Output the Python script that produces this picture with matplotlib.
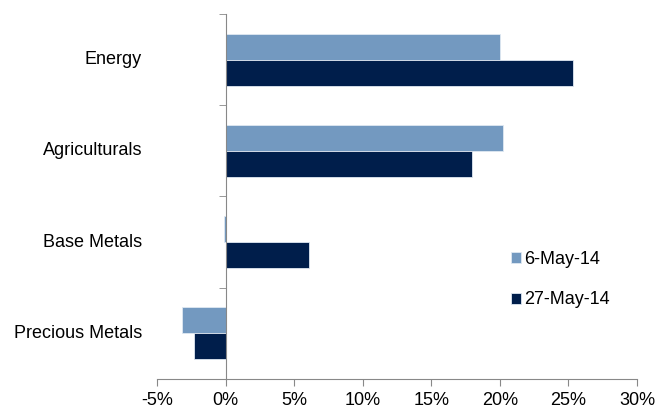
import matplotlib.pyplot as plt
import matplotlib.transforms as mtransforms
import numpy as np
from matplotlib.ticker import FixedLocator, FuncFormatter

plt.rcParams['font.family'] = ['Liberation Sans', 'DejaVu Sans']

categories = ["Energy", "Agriculturals", "Base Metals", "Precious Metals"]
may6 = [20.0, 20.2, -0.15, -3.2]
may27 = [25.3, 18.0, 6.1, -2.3]
series_labels = ["6-May-14", "27-May-14"]
light = "#7399C0"
dark = "#001E4B"
fs = 13

fig = plt.figure(figsize=(6.55, 4.11), dpi=100)
ax = fig.add_axes([157 / 655, 32 / 411, 480 / 655, 365 / 411])

y = np.arange(len(categories))
h = 0.285
ax.barh(y - h / 2, may6, height=h, color=light, edgecolor="#dfe8f2", linewidth=0.6,
        label=series_labels[0])
ax.barh(y + h / 2, may27, height=h, color=dark, edgecolor="#dfe8f2", linewidth=0.6,
        label=series_labels[1])

ax.set_xlim(-5, 30)
ax.set_ylim(len(categories) - 0.5, -0.5)

for s in ["top", "right"]:
    ax.spines[s].set_visible(False)
ax.spines["left"].set_position(("data", 0))
ax.spines["left"].set_color("#888888")
ax.spines["bottom"].set_color("#888888")

ax.set_xticks(np.arange(-5, 31, 5))
ax.xaxis.set_major_formatter(FuncFormatter(lambda v, p: f"{v:.0f}%"))
ax.tick_params(axis="x", direction="out", length=5, color="#888888",
               labelsize=fs, pad=4)

ax.set_yticks([])
ax.yaxis.set_minor_locator(FixedLocator(np.arange(-0.5, len(categories), 1.0)))
ax.tick_params(axis="y", which="minor", direction="out", length=5, color="#888888")

trans = mtransforms.blended_transform_factory(ax.transAxes, ax.transData)
for yi, name in zip(y, categories):
    ax.text(-15 / 480, yi, name, transform=trans, ha="right", va="center", fontsize=fs)

fig.legend(loc="upper left", bbox_to_anchor=(502 / 655, 1 - 242 / 411), frameon=False,
           fontsize=fs, handlelength=0.55, handleheight=0.55, handletextpad=0.2,
           labelspacing=1.3, borderpad=0)

fig.savefig("out.png", dpi=100)
